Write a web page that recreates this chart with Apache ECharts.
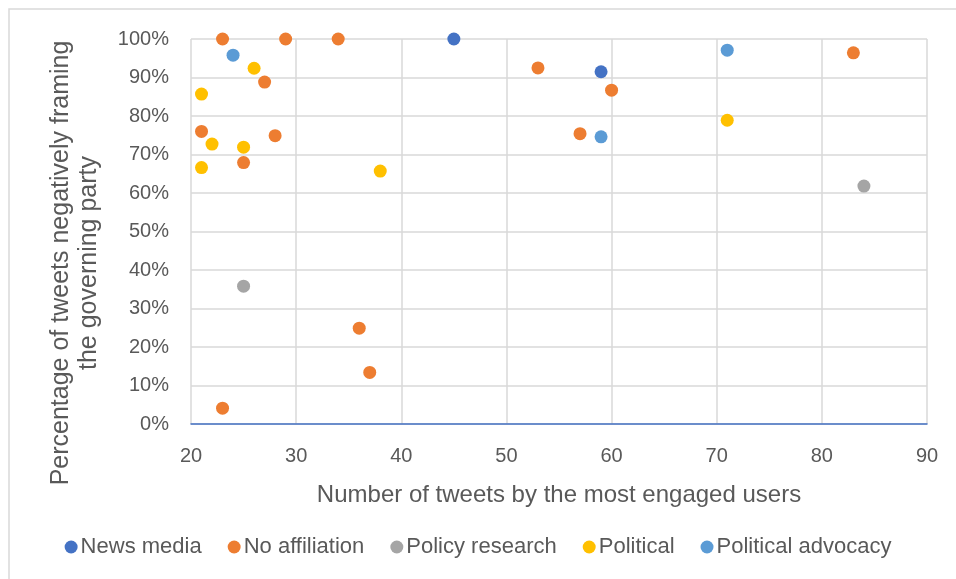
<!DOCTYPE html>
<html><head><meta charset="utf-8">
<script src="https://cdn.jsdelivr.net/npm/echarts@6/dist/echarts.min.js"></script>
<style>html,body{margin:0;padding:0;background:#fff}#c{width:956px;height:579px}</style>
</head><body><div id="c"></div>
<script>
const seriesNames = ["News media","No affiliation","Policy research","Political","Political advocacy"];
const seriesColors = ["#4472C4","#ED7D31","#A5A5A5","#FFC000","#5B9BD5"];
const newsMedia = [[45,100],[59,91.5]];
const noAffiliation = [[23,100],[29,100],[34,100],[27,88.8],[21,76],[28,74.9],[25,67.9],[53,92.5],[83,96.4],[60,86.7],[57,75.4],[36,24.9],[37,13.4],[23,4.1]];
const policyResearch = [[25,35.8],[84,61.8]];
const political = [[26,92.4],[21,85.7],[22,72.7],[25,71.9],[21,66.6],[38,65.7],[71,78.9]];
const politicalAdvocacy = [[24,95.8],[71,97.1],[59,74.6]];
const xTicks = {min:20,max:90,interval:10};
const yTicks = {min:0,max:100,interval:10};
const allData = [newsMedia,noAffiliation,policyResearch,political,politicalAdvocacy];
const xTitle = 'Number of tweets by the most engaged users';
const yTitleLines = ['Percentage of tweets negatively framing','the governing party'];

const FONT = "'Liberation Sans', 'DejaVu Sans', sans-serif";
const chart = echarts.init(document.getElementById('c'));
chart.setOption({
  animation:false,
  textStyle:{fontFamily:FONT},
  graphic:[
    {type:'rect',shape:{x:9,y:9,width:960,height:590},style:{fill:'none',stroke:'#D9D9D9',lineWidth:1.5},silent:true},
    {type:'text',x:61,y:263,rotation:Math.PI/2,style:{text:yTitleLines[0],fontSize:25,fill:'#595959',fontFamily:FONT,textAlign:'center',textVerticalAlign:'middle'}},
    {type:'text',x:89,y:263,rotation:Math.PI/2,style:{text:yTitleLines[1],fontSize:25,fill:'#595959',fontFamily:FONT,textAlign:'center',textVerticalAlign:'middle'}}
  ],
  grid:{left:191,right:29,top:39,bottom:155},
  xAxis:{type:'value',min:xTicks.min,max:xTicks.max,interval:xTicks.interval,
    name:xTitle,nameLocation:'middle',nameGap:59,
    nameTextStyle:{fontSize:24,color:'#595959',fontFamily:FONT},
    axisLine:{show:true,onZero:false,lineStyle:{color:'#4472C4',width:1.5}},
    axisTick:{show:false},
    axisLabel:{fontSize:20,color:'#595959',margin:22,fontFamily:FONT},
    splitLine:{show:true,lineStyle:{color:'#D9D9D9',width:1.5}}},
  yAxis:{type:'value',min:yTicks.min,max:yTicks.max,interval:yTicks.interval,
    axisLine:{show:false},axisTick:{show:false},
    axisLabel:{fontSize:20,color:'#595959',margin:22,formatter:v=>v+'%',fontFamily:FONT},
    splitLine:{show:true,lineStyle:{color:'#D9D9D9',width:1.5}}},
  legend:{bottom:16,left:'center',itemWidth:13,itemHeight:13,itemGap:26,icon:'circle',
    textStyle:{fontSize:22,color:'#595959',fontFamily:FONT,padding:[0,0,0,-2]},
    data:seriesNames},
  series: seriesNames.map((n,i)=>({name:n,type:'scatter',symbol:'circle',symbolSize:13,
    itemStyle:{color:seriesColors[i],opacity:1},data:allData[i]}))
});
</script></body></html>
